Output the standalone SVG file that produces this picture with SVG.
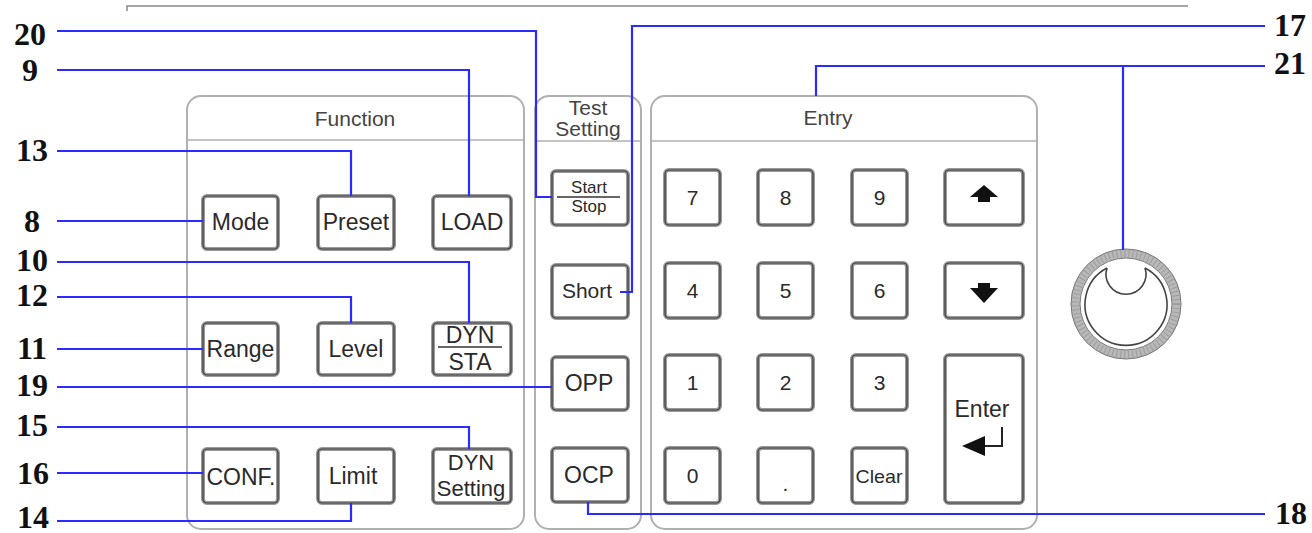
<svg xmlns="http://www.w3.org/2000/svg" width="1312" height="533" viewBox="0 0 1312 533">
<style>
.panel{fill:none;stroke:#b0b0b0;stroke-width:2}
.div{stroke:#b0b0b0;stroke-width:1.5}
.bo{fill:#fff;stroke:#9a9a9a;stroke-width:4}
.bi{fill:none;stroke:#3a3a3a;stroke-width:1.2}
.t{font-family:"Liberation Sans",Arial,sans-serif;fill:#2a2a2a;text-anchor:middle}
.h{font-size:21px;fill:#444}
.b{font-size:23px}
.k{font-size:21px}
.s{font-size:17px}
.n{font-family:"Liberation Serif","Times New Roman",serif;font-weight:bold;font-size:32px;fill:#111;text-anchor:middle}
.c{fill:none;stroke:#2b2bff;stroke-width:2.2}
.frac{stroke:#333;stroke-width:1.5}
</style>
<path d="M127,11 V6 H1188" fill="none" stroke="#888" stroke-width="1.5"/>

<g id="panel-function">
<rect class="panel" x="187" y="96" width="337" height="433" rx="14"/>
<line class="div" x1="187" y1="140" x2="524" y2="140"/>
<text class="t h" x="355" y="126">Function</text>
</g>
<g id="panel-test">
<rect class="panel" x="535" y="96" width="106" height="433" rx="14"/>
<line class="div" x1="535" y1="141" x2="641" y2="141"/>
<text class="t h" x="588" y="115" font-size="20">Test</text>
<text class="t h" x="588" y="136" font-size="20">Setting</text>
</g>
<g id="panel-entry">
<rect class="panel" x="651" y="96" width="386" height="433" rx="14"/>
<line class="div" x1="651" y1="141" x2="1037" y2="141"/>
<text class="t h" x="828" y="125">Entry</text>
</g>

<g id="btn-mode"><rect class="bo" x="203" y="196" width="75" height="53" rx="4"/><rect class="bi" x="203" y="196" width="75" height="53" rx="4"/><text class="t b" x="240.5" y="230">Mode</text></g>
<g id="btn-preset"><rect class="bo" x="318" y="196" width="76" height="53" rx="4"/><rect class="bi" x="318" y="196" width="76" height="53" rx="4"/><text class="t b" x="356" y="230">Preset</text></g>
<g id="btn-load"><rect class="bo" x="433" y="196" width="78" height="53" rx="4"/><rect class="bi" x="433" y="196" width="78" height="53" rx="4"/><text class="t b" x="472" y="230">LOAD</text></g>
<g id="btn-range"><rect class="bo" x="203" y="323" width="75" height="52" rx="4"/><rect class="bi" x="203" y="323" width="75" height="52" rx="4"/><text class="t b" x="240.5" y="357">Range</text></g>
<g id="btn-level"><rect class="bo" x="318" y="323" width="76" height="52" rx="4"/><rect class="bi" x="318" y="323" width="76" height="52" rx="4"/><text class="t b" x="356" y="357">Level</text></g>
<g id="btn-dynsta"><rect class="bo" x="433" y="323" width="78" height="52" rx="4"/><rect class="bi" x="433" y="323" width="78" height="52" rx="4"/><text class="t b" x="470" y="343">DYN</text><line class="frac" x1="438" y1="347" x2="502" y2="347"/><text class="t b" x="470" y="370">STA</text></g>
<g id="btn-conf"><rect class="bo" x="203" y="449" width="75" height="54" rx="4"/><rect class="bi" x="203" y="449" width="75" height="54" rx="4"/><text class="t b" x="241" y="485">CONF.</text></g>
<g id="btn-limit"><rect class="bo" x="318" y="449" width="76" height="54" rx="4"/><rect class="bi" x="318" y="449" width="76" height="54" rx="4"/><text class="t b" x="353" y="484">Limit</text></g>
<g id="btn-dynsetting"><rect class="bo" x="433" y="449" width="78" height="54" rx="4"/><rect class="bi" x="433" y="449" width="78" height="54" rx="4"/><text class="t" x="471" y="470" font-size="22">DYN</text><text class="t" x="471" y="496" font-size="22">Setting</text></g>

<g id="btn-startstop"><rect class="bo" x="552" y="171" width="76" height="54" rx="4"/><rect class="bi" x="552" y="171" width="76" height="54" rx="4"/><text class="t s" x="589" y="193">Start</text><line class="frac" x1="557" y1="197" x2="620" y2="197"/><text class="t s" x="589" y="212">Stop</text></g>
<g id="btn-short"><rect class="bo" x="552" y="265" width="76" height="53" rx="4"/><rect class="bi" x="552" y="265" width="76" height="53" rx="4"/><text class="t k" x="587" y="298">Short</text></g>
<g id="btn-opp"><rect class="bo" x="552" y="357" width="76" height="53" rx="4"/><rect class="bi" x="552" y="357" width="76" height="53" rx="4"/><text class="t b" x="589" y="391">OPP</text></g>
<g id="btn-ocp"><rect class="bo" x="552" y="448" width="76" height="54" rx="4"/><rect class="bi" x="552" y="448" width="76" height="54" rx="4"/><text class="t b" x="589" y="483">OCP</text></g>

<g id="key-7"><rect class="bo" x="665" y="170" width="55" height="55" rx="4"/><rect class="bi" x="665" y="170" width="55" height="55" rx="4"/><text class="t k" x="692.5" y="205">7</text></g>
<g id="key-8"><rect class="bo" x="758" y="170" width="55" height="55" rx="4"/><rect class="bi" x="758" y="170" width="55" height="55" rx="4"/><text class="t k" x="785.5" y="205">8</text></g>
<g id="key-9"><rect class="bo" x="852" y="170" width="55" height="55" rx="4"/><rect class="bi" x="852" y="170" width="55" height="55" rx="4"/><text class="t k" x="879.5" y="205">9</text></g>
<g id="key-up"><rect class="bo" x="945" y="170" width="78" height="55" rx="4"/><rect class="bi" x="945" y="170" width="78" height="55" rx="4"/><polygon points="984,185 998,197 970,197" fill="#111"/><rect x="978" y="196" width="12" height="6" fill="#111"/></g>
<g id="key-4"><rect class="bo" x="665" y="263" width="55" height="55" rx="4"/><rect class="bi" x="665" y="263" width="55" height="55" rx="4"/><text class="t k" x="692.5" y="298">4</text></g>
<g id="key-5"><rect class="bo" x="758" y="263" width="55" height="55" rx="4"/><rect class="bi" x="758" y="263" width="55" height="55" rx="4"/><text class="t k" x="785.5" y="298">5</text></g>
<g id="key-6"><rect class="bo" x="852" y="263" width="55" height="55" rx="4"/><rect class="bi" x="852" y="263" width="55" height="55" rx="4"/><text class="t k" x="879.5" y="298">6</text></g>
<g id="key-down"><rect class="bo" x="945" y="263" width="78" height="55" rx="4"/><rect class="bi" x="945" y="263" width="78" height="55" rx="4"/><rect x="978" y="283" width="12" height="6" fill="#111"/><polygon points="970,288 998,288 984,303" fill="#111"/></g>
<g id="key-1"><rect class="bo" x="665" y="355" width="55" height="55" rx="4"/><rect class="bi" x="665" y="355" width="55" height="55" rx="4"/><text class="t k" x="692.5" y="390">1</text></g>
<g id="key-2"><rect class="bo" x="758" y="355" width="55" height="55" rx="4"/><rect class="bi" x="758" y="355" width="55" height="55" rx="4"/><text class="t k" x="785.5" y="390">2</text></g>
<g id="key-3"><rect class="bo" x="852" y="355" width="55" height="55" rx="4"/><rect class="bi" x="852" y="355" width="55" height="55" rx="4"/><text class="t k" x="879.5" y="390">3</text></g>
<g id="key-enter"><rect class="bo" x="945" y="355" width="78" height="148" rx="4"/><rect class="bi" x="945" y="355" width="78" height="148" rx="4"/><text class="t b" x="982" y="417">Enter</text><path d="M1002,427 V446 H984" fill="none" stroke="#222" stroke-width="2"/><polygon points="962,446 985,436 985,456" fill="#111"/></g>
<g id="key-0"><rect class="bo" x="665" y="448" width="55" height="55" rx="4"/><rect class="bi" x="665" y="448" width="55" height="55" rx="4"/><text class="t k" x="692.5" y="483">0</text></g>
<g id="key-dot"><rect class="bo" x="758" y="448" width="55" height="55" rx="4"/><rect class="bi" x="758" y="448" width="55" height="55" rx="4"/><text class="t k" x="785.5" y="491">.</text></g>
<g id="key-clear"><rect class="bo" x="852" y="448" width="55" height="55" rx="4"/><rect class="bi" x="852" y="448" width="55" height="55" rx="4"/><text class="t" x="879" y="483" font-size="19" textLength="47" lengthAdjust="spacingAndGlyphs">Clear</text></g>

<g id="knob">
<circle cx="1126" cy="304" r="50.5" fill="none" stroke="#b8b8b8" stroke-width="9"/>
<circle cx="1126" cy="304" r="50.5" fill="none" stroke="#8a8a8a" stroke-width="7" stroke-dasharray="1 3" opacity="0.6"/>
<circle cx="1126" cy="304" r="55" fill="none" stroke="#777" stroke-width="1"/>
<circle cx="1126" cy="304" r="46" fill="none" stroke="#777" stroke-width="1"/>
<path d="M1107,268 A41,41 0 1 0 1145,268" fill="none" stroke="#444" stroke-width="1.6"/>
<path d="M1107,268 A20,20 0 1 0 1145,268" fill="none" stroke="#444" stroke-width="1.6"/>
</g>

<g id="connectors">
<path class="c" d="M57,31 H536 V197 H552"/>
<path class="c" d="M57,70 H469 V196"/>
<path class="c" d="M57,151 H351 V196"/>
<path class="c" d="M57,221 H203"/>
<path class="c" d="M57,262 H469 V323"/>
<path class="c" d="M57,297 H351 V323"/>
<path class="c" d="M57,349 H203"/>
<path class="c" d="M57,387 H552"/>
<path class="c" d="M57,427 H469 V449"/>
<path class="c" d="M57,473 H203"/>
<path class="c" d="M57,521 H351 V503"/>
<path class="c" d="M1265,26 H632 V292 H620"/>
<path class="c" d="M1265,66 H816 V96"/>
<path class="c" d="M1123,66 V250"/>
<path class="c" d="M1265,514 H588 V502"/>
</g>

<g id="labels">
<text class="n" x="30" y="45">20</text>
<text class="n" x="30" y="81">9</text>
<text class="n" x="32" y="161">13</text>
<text class="n" x="32" y="232">8</text>
<text class="n" x="32" y="271">10</text>
<text class="n" x="32" y="306">12</text>
<text class="n" x="32" y="359">11</text>
<text class="n" x="32" y="396">19</text>
<text class="n" x="32" y="436">15</text>
<text class="n" x="33" y="484">16</text>
<text class="n" x="33" y="528">14</text>
<text class="n" x="1290" y="36">17</text>
<text class="n" x="1290" y="74">21</text>
<text class="n" x="1291" y="524">18</text>
</g>
</svg>
